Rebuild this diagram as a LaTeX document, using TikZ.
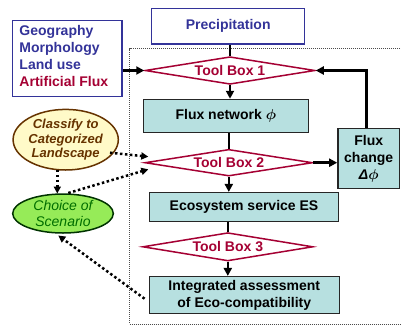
\documentclass[tikz,border=0pt]{standalone}
\usepackage{fontspec}
\setmainfont{Liberation Sans}
\usetikzlibrary{shapes.geometric,arrows.meta}
\definecolor{navy}{RGB}{51,51,153}
\definecolor{crimson}{RGB}{165,0,51}
\definecolor{teal}{RGB}{183,224,224}
\definecolor{cream}{RGB}{255,250,200}
\definecolor{brownline}{RGB}{102,51,0}
\definecolor{lime}{RGB}{150,235,88}
\definecolor{darkgreen}{RGB}{0,110,0}
\tikzset{
  txt/.style={font=\fontsize{14}{17}\selectfont\bfseries},
  inbox/.style={draw=navy, line width=1.5pt, fill=white, inner sep=0pt},
  stage/.style={draw=black!85, line width=1.5pt, fill=teal, inner sep=0pt,
    align=center, txt},
  toolbox/.style={diamond, aspect=6, draw=crimson, line width=1.5pt, fill=white,
    inner sep=0pt, text=crimson, txt},
  flow/.style={line width=2.5pt, -{Triangle[length=8pt,width=8pt]}},
  link/.style={line width=2.5pt},
  hint/.style={line width=2.5pt, dash pattern=on 2.5pt off 2.5pt,
    -{Triangle[length=7pt,width=7pt]}},
  frame/.style={draw=black!70, line width=0.8pt, dash pattern=on 0.8pt off 1.2pt},
}
\newcommand{\phisym}{{\boldmath$\phi$}}
\begin{document}
\begin{tikzpicture}[x=1pt,y=-1pt]
\useasboundingbox (0,0) rectangle (401,325);

% dotted frame round the model chain
\draw[frame] (402,48.7) -- (129.5,48.7) -- (129.5,324) -- (402,324);

% inputs
\node[inbox, minimum width=109.3pt, minimum height=76pt] (lb) at (67.35,58.7) {};
\node[txt, text=navy, anchor=north west, align=left, inner sep=0pt] (lbt) at (19.3,25)
  {Geography\\Morphology\\Land use\\\textcolor{crimson}{Artificial Flux}};
\node[inbox, minimum width=153pt, minimum height=35.7pt, text=navy, txt] (pr)
  at (228.2,26.2) {Precipitation};

% tool boxes
\node[toolbox, minimum width=170pt, minimum height=27.6pt] (tb1) at (230,70.5) {Tool Box 1};
\node[toolbox, minimum width=167.7pt, minimum height=26.7pt] (tb2) at (228.8,162.7) {Tool Box 2};
\node[toolbox, minimum width=170.3pt, minimum height=28.3pt] (tb3) at (227.8,246.8) {Tool Box 3};

% stages
\node[stage, minimum width=165pt, minimum height=33.2pt] (fn) at (225.8,116.1)
  {Flux network \phisym};
\node[stage, minimum width=189.4pt, minimum height=29pt] (eco) at (244,207.2)
  {Ecosystem service ES};
\node[stage, minimum width=190pt, minimum height=37pt] (ia) at (244.3,295.2)
  {Integrated assessment\\of Eco-compatibility};
\node[stage, minimum width=61.5pt, minimum height=60pt] (fc) at (368.7,158.5)
  {Flux\\change\\{\itshape Δ}\phisym};

% scenario ellipses
\node[ellipse, draw=brownline, line width=1.5pt, fill=cream, inner sep=0pt,
  minimum width=103.4pt, minimum height=60.6pt, align=center, text=brownline,
  font=\fontsize{13}{14.8}\selectfont\bfseries\itshape] (cl) at (65.7,139.7)
  {Classify to\\Categorized\\Landscape};
\node[ellipse, draw=black!80!green, line width=1.5pt, fill=lime, inner sep=0pt,
  minimum width=100.6pt, minimum height=39pt, align=center, text=darkgreen,
  font=\fontsize{14}{16}\selectfont\itshape] (ch) at (63,213.5)
  {Choice of\\Scenario};

% main chain
\draw[link] (tb1.north |- pr.south) -- (tb1.north);
\draw[flow] (tb1.south) -- (tb1.south |- fn.north);
\draw[link] (tb2.north |- fn.south) -- (tb2.north);
\draw[flow] (tb2.south) -- (tb2.south |- eco.north);
\draw[link] (tb3.north |- eco.south) -- (tb3.north);
\draw[flow] (tb3.south) -- (tb3.south |- ia.north);
\draw[flow] (lb.east |- tb1.west) -- (tb1.west);
\draw[flow] (tb2.east) -- (fc.west |- tb2.east);
\draw[flow] ([xshift=-2pt]fc.north) |- (tb1.east);

% scenario links
\coordinate (clout) at (110,152.7);
\coordinate (tbin1) at (148.3,156.7);
\coordinate (tbin2) at (148.3,169.3);
\coordinate (chout) at (68.3,193);
\coordinate (clbot) at (57.3,169.8);
\coordinate (chtop) at (57.3,193.5);
\coordinate (chbot) at (58.3,235.5);
\draw[hint] (clout) -- (tbin1);
\draw[hint] (chout) -- (tbin2);
\draw[hint] (clbot) -- (chtop);
\draw[hint] ([xshift=-4pt,yshift=-3.5pt]ia.west) -- (chbot);
\end{tikzpicture}
\end{document}
